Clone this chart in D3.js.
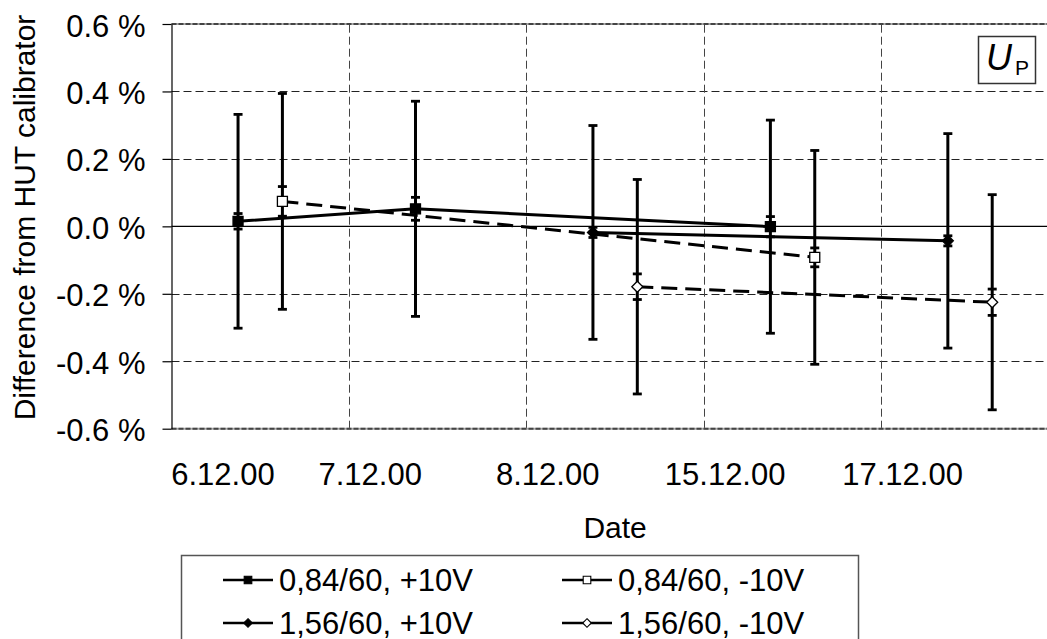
<!DOCTYPE html>
<html>
<head>
<meta charset="utf-8">
<script src="https://cdn.jsdelivr.net/npm/d3@7"></script>
<style>
  html, body { margin: 0; padding: 0; background: #fff; }
  svg { display: block; font-family: "Liberation Sans", Arial, sans-serif; }
</style>
</head>
<body>
<svg id="chart" width="1047" height="639"></svg>
<script>
// Measurement dates (category axis) and where their labels sit on the x scale
const dates = ["6.12.00", "7.12.00", "8.12.00", "15.12.00", "17.12.00"];
const dateLabelAt = [0.29, 1.12, 2.12, 3.12, 4.12];
const yTicks = [-0.6, -0.4, -0.2, 0, 0.2, 0.4, 0.6];

// Series: date index, difference (%), expanded uncertainty U (%), scatter (%)
const names = ["0,84/60, +10V", "0,84/60, -10V", "1,56/60, +10V", "1,56/60, -10V"];
const s1Day = [0, 1, 3],  s1Val = [0.015, 0.052, -0.001], s1U = [0.317, 0.319, 0.316], s1Dev = [0.023, 0.034, 0.030];
const s2Day = [0, 3],     s2Val = [0.074, -0.092],        s2U = [0.320, 0.317],        s2Dev = [0.044, 0.028];
const s3Day = [2, 4],     s3Val = [-0.018, -0.043],       s3U = [0.317, 0.318],        s3Dev = [0.015, 0.015];
const s4Day = [2, 4],     s4Val = [-0.179, -0.225],       s4U = [0.318, 0.319],        s4Dev = [0.038, 0.039];

// +10V readings sit left of the day's centre, -10V readings right of it
const polarityOffset = { pos: 0.375, neg: 0.625 };

function build(day, val, U, dev, pol) {
  return day.map((d, i) => ({ x: d + polarityOffset[pol], v: val[i], u: U[i], s: dev[i] }));
}
const series = [
  { name: names[0], pts: build(s1Day, s1Val, s1U, s1Dev, "pos"), dash: null,    marker: "square",  fill: "#000" },
  { name: names[1], pts: build(s2Day, s2Val, s2U, s2Dev, "neg"), dash: "16,8",  marker: "square",  fill: "#fff" },
  { name: names[2], pts: build(s3Day, s3Val, s3U, s3Dev, "pos"), dash: null,    marker: "diamond", fill: "#000" },
  { name: names[3], pts: build(s4Day, s4Val, s4U, s4Dev, "neg"), dash: "16,8",  marker: "diamond", fill: "#fff" }
];

const svg = d3.select("#chart");
const W = 1047;
const plotTop = 24, plotBottom = 428.7, plotLeft = 171.5;
const unit = 177.45;

const x = d3.scaleLinear().domain([0, dates.length]).range([plotLeft, plotLeft + unit * dates.length]);
const y = d3.scaleLinear().domain([-0.6, 0.6]).range([plotBottom, plotTop]);

function markerPath(type, r) {
  if (type === "square") return `M${-r},${-r}H${r}V${r}H${-r}Z`;
  return `M0,${-r}L${r},0L0,${r}L${-r},0Z`;
}

// Grid lines
const grid = svg.append("g");
yTicks.filter(t => t !== 0 && t !== 0.6 && t !== -0.6).forEach(t => {
  grid.append("line")
    .attr("x1", plotLeft).attr("x2", W)
    .attr("y1", Math.round(y(t)) + 0.5).attr("y2", Math.round(y(t)) + 0.5)
    .attr("stroke", "#222").attr("stroke-width", 1).attr("stroke-dasharray", "8,4");
});
d3.range(1, dates.length).forEach(k => {
  grid.append("line")
    .attr("x1", Math.round(x(k)) + 0.5).attr("x2", Math.round(x(k)) + 0.5)
    .attr("y1", plotBottom).attr("y2", plotTop)
    .attr("stroke", "#444").attr("stroke-width", 1).attr("stroke-dasharray", "8,4");
});

// Plot area top and bottom edges
[plotTop, plotBottom].forEach(py => {
  svg.append("line").attr("x1", plotLeft).attr("x2", W).attr("y1", py).attr("y2", py)
    .attr("stroke", "#aaa").attr("stroke-width", 2);
  svg.append("line").attr("x1", plotLeft).attr("x2", W).attr("y1", py).attr("y2", py)
    .attr("stroke", "#444").attr("stroke-width", 2).attr("stroke-dasharray", "5,2");
});

// Zero line
svg.append("line").attr("x1", plotLeft).attr("x2", W)
  .attr("y1", y(0)).attr("y2", y(0))
  .attr("stroke", "#000").attr("stroke-width", 1.2);

// Y axis
const yAxis = svg.append("g").attr("transform", `translate(${plotLeft},0)`)
  .call(d3.axisLeft(y).tickValues(yTicks).tickSize(9).tickSizeOuter(0).tickPadding(17)
    .tickFormat(d => d.toFixed(1) + " %"));
yAxis.select(".domain").attr("stroke", "#000").attr("stroke-width", 1.2);
yAxis.selectAll(".tick line").attr("stroke", "#000").attr("stroke-width", 1.2);
yAxis.selectAll(".tick text").attr("font-size", 31).attr("fill", "#000").attr("dy", "0.39em")
  .attr("font-family", "'Liberation Sans', Arial, sans-serif");

// Date labels
svg.append("g").selectAll("text").data(dates).join("text")
  .attr("x", (d, i) => x(dateLabelAt[i]))
  .attr("y", 485)
  .attr("text-anchor", "middle")
  .attr("font-size", 31)
  .text(d => d);

// Axis titles
svg.append("text").attr("x", x(dates.length / 2)).attr("y", 538)
  .attr("text-anchor", "middle").attr("font-size", 30).text("Date");
svg.append("text").attr("transform", "translate(35,217.5) rotate(-90)")
  .attr("text-anchor", "middle").attr("font-size", 30).text("Difference from HUT calibrator");

// Series lines
const line = d3.line().x(d => x(d.x)).y(d => y(d.v));
series.forEach(s => {
  svg.append("path").datum(s.pts).attr("d", line)
    .attr("fill", "none").attr("stroke", "#000").attr("stroke-width", 3)
    .attr("stroke-dasharray", s.dash);
});

// Error bars: expanded uncertainty and scatter
const eb = svg.append("g").attr("stroke", "#000");
series.forEach(s => {
  s.pts.forEach(p => {
    const cx = x(p.x);
    eb.append("line").attr("x1", cx).attr("x2", cx)
      .attr("y1", y(p.v + p.u)).attr("y2", y(p.v - p.u)).attr("stroke-width", 3);
    [p.v + p.u, p.v - p.u, p.v + p.s, p.v - p.s].forEach(e => {
      eb.append("line").attr("x1", cx - 4.5).attr("x2", cx + 4.5)
        .attr("y1", y(e)).attr("y2", y(e)).attr("stroke-width", 2.8);
    });
  });
});

// Markers
series.forEach(s => {
  svg.append("g").selectAll("path").data(s.pts).join("path")
    .attr("transform", d => `translate(${x(d.x)},${y(d.v)})`)
    .attr("d", markerPath(s.marker, s.marker === "square" ? 5 : 5.5))
    .attr("fill", s.fill).attr("stroke", "#000").attr("stroke-width", 1.3);
});

// Quantity tag
const tag = svg.append("g");
tag.append("rect").attr("x", 978.5).attr("y", 36.5).attr("width", 57).attr("height", 47)
  .attr("fill", "#fff").attr("stroke", "#333").attr("stroke-width", 1.5);
tag.append("text").attr("x", 986).attr("y", 70).attr("font-size", 36)
  .attr("font-style", "italic").text("U");
tag.append("text").attr("x", 1015).attr("y", 75).attr("font-size", 21).text("P");

// Legend
const lg = svg.append("g");
lg.append("rect").attr("x", 181.5).attr("y", 555.5).attr("width", 677).attr("height", 120)
  .attr("fill", "#fff").attr("stroke", "#555").attr("stroke-width", 1.5);
const legendCols = [223, 562];
const legendRows = [580, 623];
series.forEach((s, k) => {
  const lx = legendCols[k % 2], ly = legendRows[Math.floor(k / 2)];
  lg.append("line").attr("x1", lx).attr("x2", lx + 50).attr("y1", ly).attr("y2", ly)
    .attr("stroke", "#000").attr("stroke-width", 2.4);
  lg.append("path").attr("transform", `translate(${lx + 25},${ly})`)
    .attr("d", markerPath(s.marker, s.marker === "square" ? 3.8 : 4.3))
    .attr("fill", s.fill).attr("stroke", "#000").attr("stroke-width", 1.1);
  lg.append("text").attr("x", lx + 56).attr("y", ly + 10.5).attr("font-size", 31).text(s.name);
});
</script>
</body>
</html>
